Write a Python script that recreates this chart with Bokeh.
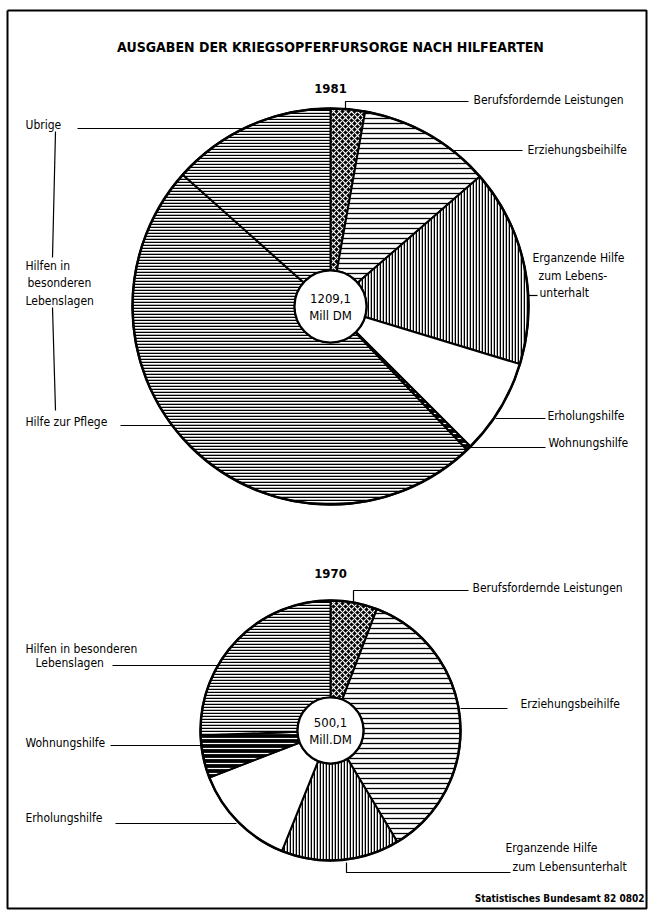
import numpy as np
from bokeh.plotting import figure
from bokeh.models import Range1d
from bokeh.core.properties import value
from bokeh.embed import file_html
from bokeh.resources import INLINE

# ---------------- data ----------------
title = "AUSGABEN DER KRIEGSOPFERFURSORGE NACH HILFEARTEN"
source_note = "Statistisches Bundesamt 82 0802"

year_1981 = "1981"
total_1981 = ["1209,1", "Mill DM"]
cats_1981 = ["Berufsfordernde Leistungen", "Erziehungsbeihilfe",
             "Erganzende Hilfe zum Lebensunterhalt", "Erholungshilfe",
             "Wohnungshilfe", "Hilfe zur Pflege", "Ubrige"]
share_1981 = [2.8, 10.8, 16.1, 7.8, 0.4, 48.7, 13.4]   # percent of total

year_1970 = "1970"
total_1970 = ["500,1", "Mill.DM"]
cats_1970 = ["Berufsfordernde Leistungen", "Erziehungsbeihilfe",
             "Erganzende Hilfe zum Lebensunterhalt", "Erholungshilfe",
             "Wohnungshilfe", "Hilfen in besonderen Lebenslagen"]
share_1970 = [5.8, 35.6, 14.7, 13.0, 5.3, 25.6]

# ---------------- layout ----------------
FONT = "DejaVu Sans Condensed, Roboto, sans-serif"
W, H = 650, 921


def Y(y):
    return 921 - y


p = figure(width=W, height=H, output_backend="svg", toolbar_location=None,
           x_range=Range1d(0, 650), y_range=Range1d(0, 921),
           min_border=0, outline_line_color=None, background_fill_color="white")
p.axis.visible = False
p.grid.visible = False

STY = {
    "Berufsfordernde Leistungen": dict(fill_color="black", hatch_pattern="diagonal_cross",
                                       hatch_color="white", hatch_scale=6, hatch_weight=1.2),
    "Erziehungsbeihilfe": dict(fill_color="white", hatch_pattern="horizontal_line",
                               hatch_color="black", hatch_scale=5, hatch_weight=1.3),
    "Erganzende Hilfe zum Lebensunterhalt": dict(fill_color="white", hatch_pattern="vertical_line",
                                                 hatch_color="black", hatch_scale=3, hatch_weight=1.6),
    "Erholungshilfe": dict(fill_color="white"),
    "Wohnungshilfe": dict(fill_color="black", hatch_pattern="horizontal_line",
                          hatch_color="white", hatch_scale=5, hatch_weight=1.2),
    "Hilfe zur Pflege": dict(fill_color="white", hatch_pattern="horizontal_line",
                             hatch_color="black", hatch_scale=3, hatch_weight=1.6),
    "Ubrige": dict(fill_color="white", hatch_pattern="horizontal_line",
                   hatch_color="black", hatch_scale=3, hatch_weight=1.4),
    "Hilfen in besonderen Lebenslagen": dict(fill_color="white", hatch_pattern="horizontal_line",
                                             hatch_color="black", hatch_scale=3, hatch_weight=1.5),
}


def draw_pie(cx, cy, r, r0, cats, shares, center_text):
    cum = np.concatenate([[0.0], np.cumsum(shares)]) / np.sum(shares) * 360.0
    for i, c in enumerate(cats):
        a1, a2 = cum[i], cum[i + 1]
        p.annular_wedge(x=cx, y=Y(cy), inner_radius=r0, outer_radius=r,
                        start_angle=np.radians(90 - a2), end_angle=np.radians(90 - a1),
                        line_color="black", line_width=2, **STY[c])
    p.circle(x=cx, y=Y(cy), radius=r, fill_color=None, line_color="black", line_width=2.5)
    p.circle(x=cx, y=Y(cy), radius=r0, fill_color="white", line_color="black", line_width=2.2)
    p.text(x=[cx, cx], y=[Y(cy - 8), Y(cy + 9)], text=center_text,
           text_font=value(FONT), text_font_size="13px", text_align="center",
           text_baseline="middle", text_color="black")


def label(x, y, txt, size="12px", align="left", bold=False):
    p.text(x=[x], y=[Y(y)], text=[txt], text_font=value(FONT), text_font_size=size,
           text_align=align, text_baseline="middle", text_color="black",
           text_font_style="bold" if bold else "normal")


def seg(xs, ys, w=1.2):
    p.line(x=xs, y=[Y(v) for v in ys], line_color="black", line_width=w)


# frame
seg([7, 646, 646, 7, 7], [10, 10, 908, 908, 10], w=2)

# title
label(330, 46, title, size="14px", align="center", bold=True)

# ---- 1981 ----
draw_pie(330, 306, 198, 36, cats_1981, share_1981, total_1981)
label(330, 88, year_1981, size="13px", align="center", bold=True)

seg([345, 345, 468], [108, 101, 101])
label(473, 99, "Berufsfordernde Leistungen")
seg([453, 522], [150, 150])
label(527, 149, "Erziehungsbeihilfe")
label(532, 257, "Erganzende Hilfe")
label(538, 275, "zum Lebens-")
label(539, 292, "unterhalt")
seg([528, 537], [295, 295])
seg([495, 545], [418, 418])
label(547, 415, "Erholungshilfe")
seg([468, 545], [447, 447])
label(548, 442, "Wohnungshilfe")

label(25, 124, "Ubrige")
seg([77, 241], [128, 128])
seg([55, 52], [131, 257])
label(25, 265, "Hilfen in")
label(27, 282, "besonderen")
label(25, 300, "Lebenslagen")
seg([52, 55], [307, 410])
label(25, 421, "Hilfe zur Pflege")
seg([120, 171], [425, 425])

# ---- 1970 ----
draw_pie(330, 730, 130, 33, cats_1970, share_1970, total_1970)
label(330, 573, year_1970, size="13px", align="center", bold=True)

seg([353, 353, 468], [602, 590, 590])
label(472, 587, "Berufsfordernde Leistungen")
seg([460, 507], [708, 708])
label(520, 703, "Erziehungsbeihilfe")
seg([346, 346, 510], [862, 872, 872])
label(505, 847, "Erganzende Hilfe")
label(512, 866, "zum Lebensunterhalt")

label(25, 648, "Hilfen in besonderen")
label(35, 662, "Lebenslagen")
seg([112, 218], [665, 665])
label(25, 742, "Wohnungshilfe")
seg([110, 201], [745, 745])
label(25, 817, "Erholungshilfe")
seg([115, 236], [823, 823])

label(644, 898, source_note, size="10px", align="right", bold=True)

open("out.html", "w").write(file_html(p, INLINE))
